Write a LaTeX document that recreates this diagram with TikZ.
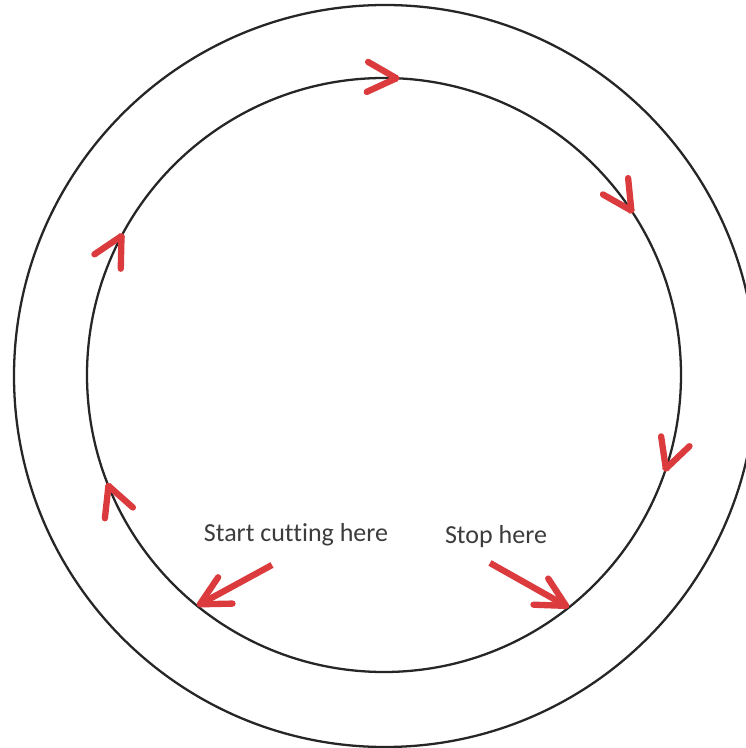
\documentclass[tikz,border=0pt]{standalone}
\usepackage{fontspec}
\setmainfont{Carlito}[Ligatures=NoCommon]
\usepackage{xcolor}
\definecolor{ink}{HTML}{262626}
\definecolor{cutred}{HTML}{DC3B3E}
\definecolor{label}{HTML}{3C3C3C}
\usetikzlibrary{arrows.meta,calc}
\tikzset{
  rim/.style  ={draw=ink,line width=1.3pt},
  chev/.style ={-{Straight Barb[length=5.8mm,width=6mm,round]},
                draw=cutred,line width=3.6pt},
  cut/.style  ={chev},
  lbl/.style  ={font=\fontsize{14.8}{17}\selectfont,text=label,
                inner sep=0pt,anchor=base},
}

\begin{document}
\begin{tikzpicture}[x=0.02cm,y=0.02cm]
\useasboundingbox (0,0) rectangle (745,748);
\path[fill=white] (0,0) rectangle (745,748);
\coordinate (c) at (384,373);
\draw[rim] (385,372) circle[radius=371];
\draw[rim] (c) circle[radius=297];
% direction marks, clockwise
\foreach \a in {87,33,-19,151.5,201.3}
  \draw[chev] ($(c)+(\a+0.4:297)$) arc[start angle=\a+0.4,end angle=\a,radius=297];
\node[lbl] (start) at (296,206) {Start cutting here};
\node[lbl] (stop) at (496,204) {Stop here};
\coordinate (startfrom) at (272,183);
\coordinate (stopfrom) at (490,185);
\coordinate (startat) at ($(c)+(231:297)$);
\coordinate (stopat) at ($(c)+(308.5:297)$);
\draw[cut] (startfrom) -- (startat);
\draw[cut] (stopfrom) -- (stopat);
\end{tikzpicture}
\end{document}
